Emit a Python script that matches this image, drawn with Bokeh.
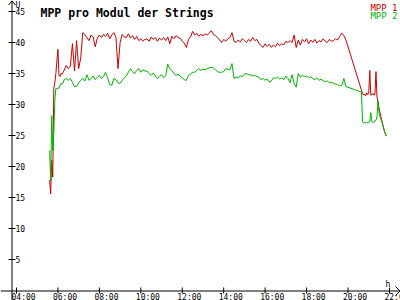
from bokeh.plotting import figure
from bokeh.models import Range1d
from bokeh.core.properties import value
from bokeh.embed import file_html
from bokeh.resources import INLINE

# ---------------- data ----------------
hours_early = [5.6, 5.65, 5.7, 5.75, 5.8, 5.85, 5.9, 5.95, 6.0, 6.05, 6.1, 6.15, 6.2, 6.25]
mpp1_early = [17.8, 15.6, 21.0, 18.3, 32.6, 33.5, 35.0, 37.0, 38.9, 34.7, 34.5, 35.0, 34.9, 35.2]
mpp2_early = [22.6, 17.7, 28.2, 22.5, 25.3, 30.6, 32.6, 32.5, 32.7, 32.6, 33.0, 33.4, 33.3, 33.5]

# measurements every 6 minutes from 06:18 to 19:54
hours_mid = [round(6.3 + 0.1 * i, 2) for i in range(137)]
mpp1_mid = [
    35.5, 36.3, 35.8, 36.2, 39.8, 35.4, 40.3, 35.8, 37.5, 41.6,
    41.3, 40.8, 40.3, 41.2, 40.9, 39.3, 40.7, 41.2, 40.8, 41.3,
    41.0, 41.5, 40.6, 41.2, 41.6, 40.8, 35.8, 40.0, 41.3, 40.9,
    40.8, 41.4, 40.7, 41.1, 40.5, 41.0, 40.3, 40.6, 40.2, 40.5,
    40.6, 40.2, 40.9, 40.5, 40.8, 40.2, 40.7, 40.4, 40.8, 40.3,
    40.9, 39.8, 41.0, 40.6, 41.1, 40.8, 40.7, 40.2, 39.9, 39.2,
    40.5, 40.9, 41.8, 41.2, 41.5, 41.0, 41.3, 41.1, 41.4, 41.2,
    41.5, 41.9, 41.3, 41.1, 40.8, 40.4, 40.0, 40.5, 40.2, 40.6,
    40.8, 41.6, 40.2, 40.0, 40.4, 40.1, 40.6, 40.3, 40.0, 40.5,
    40.2, 40.8, 40.3, 40.5, 39.9, 39.5, 39.2, 39.8, 39.4, 39.7,
    39.2, 39.6, 39.3, 39.9, 39.5, 39.8, 39.6, 40.2, 40.0, 40.3,
    40.0, 41.2, 39.2, 40.4, 39.6, 40.5, 40.1, 40.6, 39.8, 40.4,
    40.0, 40.5, 39.9, 40.3, 40.1, 40.6, 40.2, 40.0, 40.5, 40.2,
    40.3, 40.6, 40.4, 41.0, 41.5, 41.1, 40.4,
]
mpp2_mid = [
    34.0, 34.2, 33.9, 34.2, 33.6, 32.9, 32.9, 33.5, 33.9, 34.2,
    33.8, 34.8, 33.9, 34.2, 34.6, 34.0, 34.4, 34.7, 34.2, 34.5,
    35.2, 34.3, 33.2, 33.1, 34.2, 34.0, 33.5, 33.4, 33.9, 34.3,
    34.6, 35.2, 35.8, 35.3, 35.0, 35.5, 35.8, 35.2, 35.6, 35.4,
    35.4, 35.0, 34.7, 35.1, 34.6, 34.2, 34.5, 34.8, 34.3, 34.6,
    36.5, 35.8, 35.5, 35.0, 34.7, 34.9, 34.6, 34.3, 34.0, 33.9,
    34.7, 34.9, 35.2, 35.2, 35.5, 35.8, 35.5, 35.7, 35.6, 35.8,
    35.9, 36.0, 35.9, 35.6, 35.3, 35.2, 35.2, 35.3, 35.8, 35.7,
    35.6, 36.6, 34.2, 34.4, 34.3, 34.6, 34.5, 34.9, 35.0, 34.8,
    34.8, 34.6, 34.7, 34.5, 34.4, 34.0, 34.2, 33.9, 34.1, 33.6,
    33.8, 34.3, 34.2, 34.4, 34.1, 34.3, 34.0, 34.6, 34.2, 33.5,
    34.8, 33.4, 32.8, 35.0, 34.4, 34.7, 34.5, 34.6, 34.3, 34.5,
    34.2, 34.0, 34.3, 33.9, 34.1, 33.8, 33.7, 33.8, 33.5, 33.6,
    33.4, 33.3, 33.2, 33.0, 33.1, 34.2, 32.9,
]

hours_tail = [20.65, 20.7, 20.75, 20.8, 20.85, 20.9, 20.95, 21.0, 21.05, 21.1, 21.15, 21.2,
              21.25, 21.3, 21.35, 21.4, 21.45, 21.5, 21.55, 21.6, 21.65, 21.7, 21.75, 21.8, 21.85]
mpp1_tail = [32.3, 31.8, 31.5, 31.7, 31.4, 31.9, 31.6, 31.8, 35.5, 31.5, 31.6, 31.8,
             31.5, 31.7, 35.3, 31.2, 30.2, 29.4, 28.6, 27.9, 27.1, 26.5, 25.8, 25.3, 24.9]
mpp2_tail = [32.0, 27.3, 27.0, 27.1, 27.0, 27.2, 27.0, 27.1, 27.2, 28.7, 27.3, 27.1,
             27.2, 27.3, 27.5, 28.0, 30.6, 28.6, 28.0, 27.5, 27.0, 26.4, 25.8, 25.3, 24.9]

x_ticks = [4, 6, 8, 10, 12, 14, 16, 18, 20, 22]
x_tick_labels = ["04:00", "06:00", "08:00", "10:00", "12:00", "14:00", "16:00", "18:00", "20:00", "22:00"]
y_ticks = [5, 10, 15, 20, 25, 30, 35, 40, 45]
y_tick_labels = ["5", "10", "15", "20", "25", "30", "35", "40", "45"]

title_text = "MPP pro Modul der Strings"
series_names = ["MPP 1", "MPP 2"]
y_unit = "U"
x_unit = "h"

hours = hours_early + hours_mid + hours_tail
mpp1 = mpp1_early + mpp1_mid + mpp1_tail
mpp2 = mpp2_early + mpp2_mid + mpp2_tail

# ---------------- layout helpers ----------------
W, H = 400, 300
X0 = 3.228      # hour at left canvas edge
SX = 20.72      # px per hour
Y0PX = 290      # pixel row of value 0
SY = 6.2        # px per volt


def hx(px):
    return X0 + px / SX


def vy(py):
    return (Y0PX - py) / SY


RED = "#c80000"
GREEN = "#00b400"
FONT = "DejaVu Sans Mono"

p = figure(width=W, height=H, x_range=Range1d(hx(0), hx(W)), y_range=Range1d(vy(H), vy(0)),
           output_backend="svg", toolbar_location=None, x_axis_type=None, y_axis_type=None,
           min_border=0)
p.outline_line_color = None
p.background_fill_color = "white"
p.border_fill_color = "white"

# unit labels and title first
p.text(x=[hx(385), hx(15)], y=[vy(284), vy(5)], text=[x_unit, y_unit], text_font=value(FONT),
       text_font_size="8px", text_align="left", text_baseline="alphabetic", text_color="#000000")
p.text(x=[hx(40)], y=[vy(12)], text=[title_text], text_font=value(FONT), text_font_size="11.5px",
       text_font_style="bold", text_align="left", text_baseline="alphabetic", text_color="#000000")

# data
p.line(hours, mpp1, line_color=RED, line_width=1)
p.line(hours, mpp2, line_color=GREEN, line_width=1)

# axes
p.segment(x0=[hx(11.5)], y0=[vy(H)], x1=[hx(11.5)], y1=[vy(0)], line_color="black", line_width=1)
p.segment(x0=[hx(0)], y0=[vy(290.5)], x1=[hx(W)], y1=[vy(290.5)], line_color="black", line_width=1)
p.line([hx(8), hx(11.5), hx(15)], [vy(4.5), vy(0.5), vy(4.5)], line_color="black", line_width=1)
p.line([hx(395), hx(399.5), hx(395)], [vy(286), vy(290.5), vy(295)], line_color="black", line_width=1)

# ticks
p.segment(x0=x_ticks, y0=[vy(287)] * len(x_ticks), x1=x_ticks, y1=[vy(293)] * len(x_ticks),
          line_color="black", line_width=1)
p.segment(x0=[hx(8)] * len(y_ticks), y0=y_ticks, x1=[hx(15)] * len(y_ticks), y1=y_ticks,
          line_color="black", line_width=1)

p.text(x=[t - 5 / SX for t in x_ticks], y=[vy(292.5)] * len(x_ticks), text=x_tick_labels,
       text_align="left", text_baseline="top", text_font=value(FONT), text_font_size="8px",
       text_color="#000000")
p.text(x=[hx(15)] * len(y_ticks), y=y_ticks, text=y_tick_labels,
       text_align="left", text_baseline="middle", text_font=value(FONT), text_font_size="8px",
       text_color="#000000")

# legend
p.text(x=[hx(397), hx(397)], y=[vy(7), vy(15)], text=series_names, text_font=value(FONT),
       text_font_size="9px", text_align="right", text_baseline="alphabetic",
       text_color=[RED, GREEN])

open("out.html", "w").write(file_html(p, INLINE))
